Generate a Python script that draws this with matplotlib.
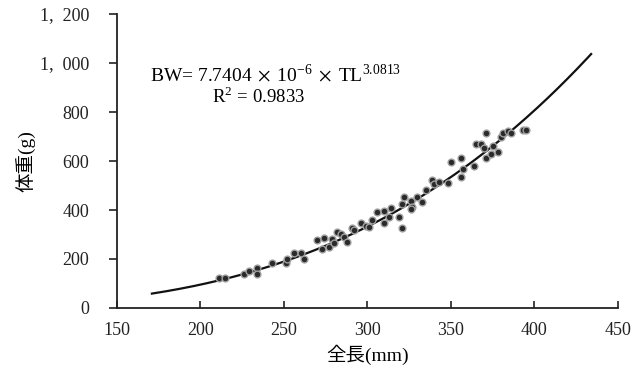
import numpy as np
import matplotlib
matplotlib.use("Agg")
import matplotlib.pyplot as plt
from matplotlib.ticker import FuncFormatter

plt.rcParams['font.family'] = ['Liberation Serif', 'Noto Sans CJK JP', 'DejaVu Sans']
plt.rcParams['mathtext.fontset'] = 'stix'

total_length = [211, 215, 226, 229, 234, 234, 243, 251, 252, 256, 260, 262,
                270, 274, 273, 277, 279, 280, 282, 284, 286, 288, 291, 292,
                296, 299, 301, 303, 306, 310, 310, 314, 313, 319, 321, 321,
                322, 326, 327, 326, 330, 333, 335, 339, 340, 343, 348, 350,
                356, 356, 357, 364, 365, 368, 370, 371, 371, 374, 375, 378,
                380, 381, 384, 386, 393, 395]
body_weight = [124, 124, 139, 151, 162, 139, 185, 182, 199, 226, 226, 199,
               278, 284, 240, 250, 280, 264, 311, 301, 289, 271, 328, 318,
               348, 335, 329, 359, 393, 348, 397, 407, 370, 373, 328, 424,
               454, 438, 413, 405, 454, 434, 482, 522, 506, 516, 509, 597,
               611, 533, 566, 580, 669, 669, 652, 716, 613, 627, 661, 638,
               699, 713, 724, 716, 727, 727]

# 回帰式 BW = a * TL^b
coef_a = 7.7404e-6
coef_b = 3.0813
curve_range = (171, 434)

fig = plt.figure(figsize=(6.35, 3.74), dpi=100)
ax = fig.add_axes([0.184, 0.1765, 0.789, 0.786])

tl = np.linspace(curve_range[0], curve_range[1], 300)
ax.plot(tl, coef_a * tl ** coef_b, color='#111111', lw=1.6, zorder=2)
ax.scatter(total_length, body_weight, s=24, color='#2a2a2a',
           edgecolors='#a0a0a0', linewidths=1.0, zorder=3)

ax.set_xlim(150, 450)
ax.set_ylim(0, 1200)
ax.set_xticks(range(150, 451, 50))
ax.set_yticks(range(0, 1201, 200))
ax.yaxis.set_major_formatter(
    FuncFormatter(lambda v, p: f"{int(v):,}".replace(",", ",  ")))

for side in ['top', 'right']:
    ax.spines[side].set_visible(False)
for side in ['left', 'bottom']:
    ax.spines[side].set_linewidth(1.3)
    ax.spines[side].set_color('#222222')

ax.tick_params(axis='x', direction='in', length=5, width=1.2, labelsize=13,
               pad=10, colors='#222222')
ax.tick_params(axis='y', direction='out', length=6, width=1.2, labelsize=13,
               pad=14, colors='#222222')

ax.set_xlabel('全長(mm)', fontsize=14, labelpad=4)
ax.set_ylabel('体重(g)', fontsize=14, labelpad=2)

ax.text(0.066, 0.793,
        r'BW= 7.7404$\;\times\;$10$^{\mathregular{-6}}$$\;\times\;$TL$^{\mathregular{3.0813}}$',
        transform=ax.transAxes, fontsize=14, ha='left', va='center')
ax.text(0.19, 0.718, r'R$^{\mathregular{2}}$ = 0.9833', transform=ax.transAxes,
        fontsize=13.5, ha='left', va='center')

fig.savefig('out.png', dpi=100)
